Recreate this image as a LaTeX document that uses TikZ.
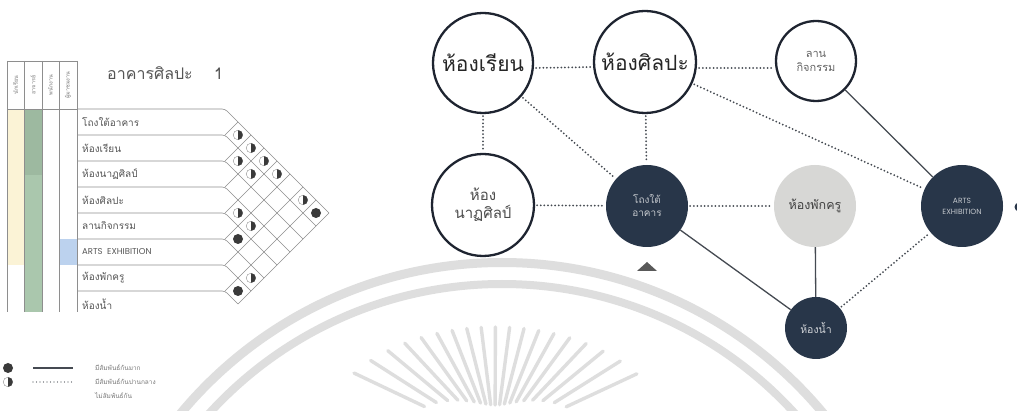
\documentclass[tikz,border=0pt]{standalone}
\usepackage{fontspec}
\newfontfamily\thaifont[Script=Thai]{Loma}
\newfontfamily\sansf{Poppins}
\definecolor{navyc}{HTML}{283649}
\definecolor{inkc}{HTML}{1E2430}
\definecolor{greyc}{HTML}{D7D7D5}
\definecolor{linec}{HTML}{454A52}
\definecolor{wmc}{HTML}{DEDEDE}
\definecolor{gridc}{HTML}{8E8E8E}
\definecolor{labc}{HTML}{555555}
\definecolor{yelc}{HTML}{FBF3D6}
\definecolor{grnd}{HTML}{9DB9A0}
\definecolor{grnl}{HTML}{AAC7AD}
\definecolor{bluc}{HTML}{BCD2EE}
\definecolor{dotc}{HTML}{3A3A3A}
\tikzset{
  wc/.style={circle, draw=inkc, line width=2.3pt, fill=white, inner sep=0pt, align=center},
  dkc/.style={circle, fill=navyc, inner sep=0pt, align=center},
  grc/.style={circle, fill=greyc, inner sep=0pt, align=center},
  dotl/.style={draw=linec, line width=2pt, dash pattern=on 0pt off 3.6pt, line cap=round, shorten <=2pt, shorten >=2pt},
  soll/.style={draw=linec, line width=1.3pt},
  gridl/.style={draw=gridc, line width=0.6pt},
  lbl/.style={anchor=west, inner sep=0pt, text=labc, font=\thaifont\fontsize{10}{12}\selectfont},
  hdr/.style={rotate=90, inner sep=0pt, text=labc!80, font=\thaifont\fontsize{5.5}{6}\selectfont},
  leg/.style={anchor=west, inner sep=0pt, text=labc!80, font=\thaifont\fontsize{6.5}{7}\selectfont},
  wm/.style={draw=wmc, line cap=round}
}
\newcommand{\halfmark}[2]{%
  \draw[gridc, fill=white, line width=0.4pt] (#1,#2) circle[radius=4.8pt];
  \fill[dotc] (#1,#2) ++(0,-4.8) arc[start angle=90, end angle=-90, radius=4.8pt] -- cycle;}
\newcommand{\fullmark}[2]{%
  \fill[dotc] (#1,#2) circle[radius=5pt];}
\begin{document}
\begin{tikzpicture}[x=1pt,y=-1pt]
\useasboundingbox[fill=white] (0,0) rectangle (1017,411);
% ---------- watermark ----------
\begin{scope}
\clip (0,0) rectangle (1017,411);
\draw[wm, line width=9pt] (502,680) circle[radius=417.5pt];
\draw[wm, line width=8pt] (502,680) circle[radius=396pt];
\foreach \a in {25,32.2,...,156} {
  \pgfmathsetmacro\rt{100*1.75*1.13/sqrt((1.13*cos(\a))^2+(1.75*sin(\a))^2)}
  \pgfmathsetmacro\ri{\rt-78}
  \draw[wm, line width=3.4pt] ({495+\ri*cos(\a)},{440-\ri*sin(\a)}) -- ({495+\rt*cos(\a)},{440-\rt*sin(\a)});
}
\end{scope}
% ---------- left table ----------
\fill[yelc] (7,109) rectangle (24,265);
\fill[grnd] (24,109) rectangle (42,175);
\fill[grnl] (24,175) rectangle (42,312);
\fill[bluc] (59,239) rectangle (77,265);
\foreach \x in {7,24,42,59,77} \draw[gridl, line width=0.5pt] (\x,61) -- (\x,312);
\draw[gridl, line width=0.5pt] (7,61) -- (77,61);
\draw[gridl] (7,109) -- (77,109);
\node[hdr] (h1) at (15.5,85) {นักเรียน};
\node[hdr] (h2) at (33,85) {อาจารย์};
\node[hdr] (h3) at (50.5,85) {พนักงาน};
\node[hdr] (h4) at (68,85) {ผู้มาชมงาน};
\node[anchor=west, inner sep=0pt, text=labc, font=\thaifont\fontsize{16}{18}\selectfont] (title) at (107,73) {อาคารศิลปะ\quad\ 1};
% label lines
\foreach \k in {0,...,7}
  \draw[gridl, rounded corners=3pt] (77,{109+26*\k}) -- (225,{109+26*\k}) -- ({329-13*\k},{213+13*\k});
\foreach \m in {0,...,6}
  \draw[gridl] (225,{135+26*\m}) -- ({238+13*\m},{122+13*\m});
\draw[gridl] (238,304) -- (329,213);
% labels
\node[lbl] (l1) at (82,122) {โถงใต้อาคาร};
\node[lbl] (l2) at (82,148) {ห้องเรียน};
\node[lbl] (l3) at (82,174) {ห้องนาฏศิลป์};
\node[lbl] (l4) at (82,200) {ห้องศิลปะ};
\node[lbl] (l5) at (82,226) {ลานกิจกรรม};
\node[lbl, font=\sansf\fontsize{8.5}{10}\selectfont] (l6) at (82,252) {ARTS\ \ EXHIBITION};
\node[lbl] (l7) at (82,278) {ห้องพักครู};
\node[lbl] (l8) at (82,304) {ห้องน้ำ};
% relation marks
\foreach \i/\j in {1/2,1/3,2/3,1/4,2/4,1/5,1/7,4/5,4/6,6/8}
  \halfmark{{225+13*(\j-\i)}}{{122+13*(\i+\j-2)}};
\foreach \i/\j in {1/8,5/6,7/8}
  \fullmark{{225+13*(\j-\i)}}{{122+13*(\i+\j-2)}};
% legend
\fullmark{8}{368}
\draw[linec, line width=1.5pt] (33,368) -- (73,368);
\node[leg] (g1) at (95,368) {มีสัมพันธ์กันมาก};
\halfmark{8}{382}
\draw[linec, line width=1.4pt, dash pattern=on 0pt off 3.5pt, line cap=round] (33,382) -- (73,382);
\node[leg] (g2) at (95,382) {มีสัมพันธ์กันปานกลาง};
\node[leg] (g3) at (95,396) {ไม่สัมพันธ์กัน};
% ---------- network ----------
\node[wc, minimum size=100pt, font=\thaifont\fontsize{21}{24}\selectfont, text=black!85] (classroom) at (483,63) {ห้องเรียน};
\node[wc, minimum size=102pt, font=\thaifont\fontsize{21}{24}\selectfont, text=black!85] (art) at (645,62) {ห้องศิลปะ};
\node[wc, minimum size=80pt, font=\thaifont\fontsize{11}{14}\selectfont, text=labc!90] (yard) at (816,61) {ลาน\\กิจกรรม};
\node[wc, minimum size=102pt, font=\thaifont\fontsize{15}{18}\selectfont, text=black!70] (dance) at (483,205) {ห้อง\\นาฏศิลป์};
\node[dkc, minimum size=82pt, font=\thaifont\fontsize{10}{13}\selectfont, text=white!72!navyc] (hall) at (647,206) {โถงใต้\\อาคาร};
\node[grc, minimum size=82pt, font=\thaifont\fontsize{12.5}{14}\selectfont, text=black!75] (staff) at (815,206) {ห้องพักครู};
\node[dkc, minimum size=82pt, font=\sansf\fontsize{7.5}{11}\selectfont, text=white!72!navyc] (expo) at (962,206) {ARTS\\EXHIBITION};
\node[dkc, minimum size=62pt, font=\thaifont\fontsize{10.5}{12}\selectfont, text=white!78!navyc] (wc) at (816,328) {ห้องน้ำ};
% connectors
\draw[dotl] ([yshift=-5pt]classroom.east) -- ([yshift=-5pt]art.west);
\draw[dotl] ([yshift=-6pt]art.east) -- ([yshift=-7pt]yard.west);
\draw[dotl] (classroom) -- (dance);
\draw[dotl] (classroom) -- (hall);
\draw[dotl] (art) -- (hall);
\draw[dotl] (art) -- (expo);
\draw[soll] (yard) -- (expo);
\draw[dotl] (dance) -- (hall);
\draw[dotl] (hall) -- (staff);
\draw[soll] (hall) -- (wc);
\draw[soll] (staff) -- (wc);
\draw[dotl] (wc) -- (expo);
% triangle marker and edge dot
\fill[black!65] (637,271) -- (657,271) -- (647,262) -- cycle;
\fill[navyc] (1019,207) circle[radius=4.5pt];
\end{tikzpicture}
\end{document}
